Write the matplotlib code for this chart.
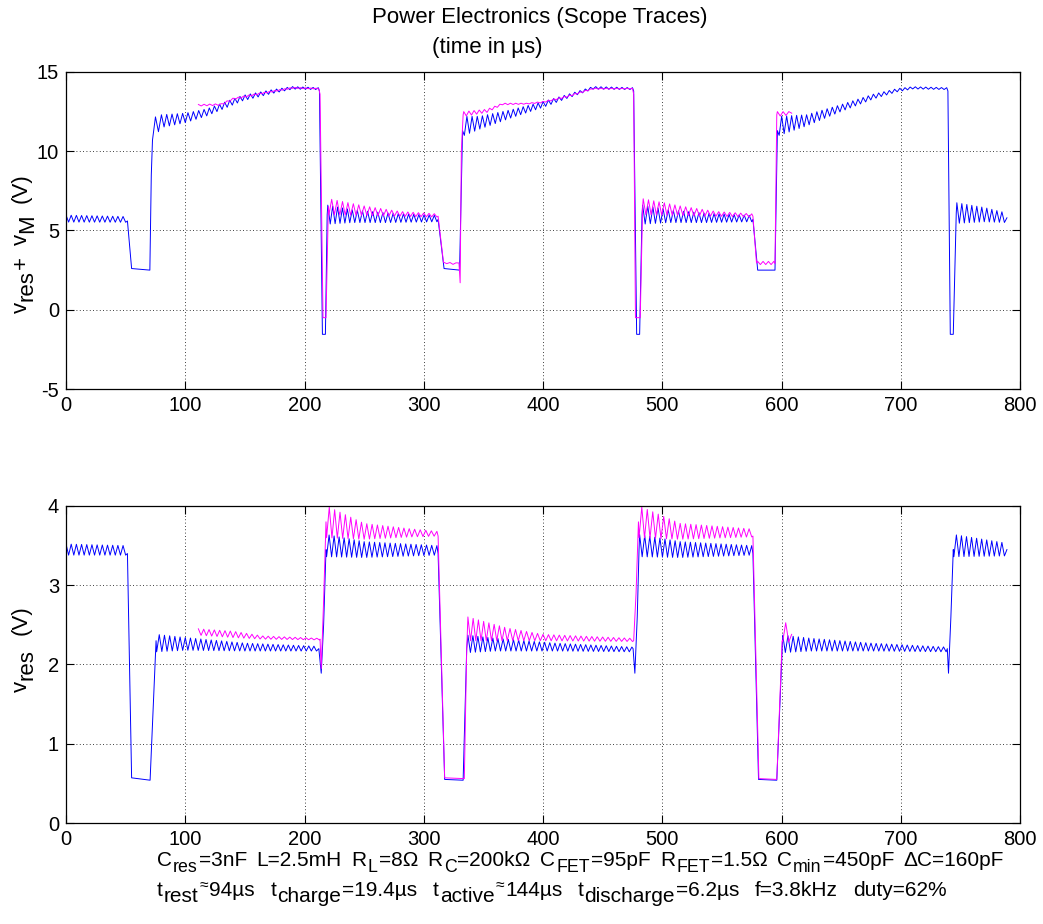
import numpy as np
import matplotlib
matplotlib.use('Agg')
import matplotlib.pyplot as plt

plt.rcParams['font.family'] = ['Liberation Sans', 'DejaVu Sans']
plt.rcParams['mathtext.fontset'] = 'custom'
plt.rcParams['mathtext.rm'] = 'Liberation Sans'
plt.rcParams['mathtext.default'] = 'regular'
plt.rcParams['axes.unicode_minus'] = False

# knots: (time us, centre level V, ringing amplitude V)
top_blue = [
    (0, 5.75, 0.22), (50, 5.7, 0.18), (51.5, 5.6, 0), (55, 2.6, 0), (70.3, 2.5, 0),
    (71.5, 8.5, 0), (72.5, 11.4, 0.7), (80, 11.9, 0.4), (100, 12.1, 0.3), (118, 12.45, 0.22),
    (148, 13.35, 0.17), (172, 13.75, 0.12), (190, 14.0, 0.08), (211.5, 13.95, 0.06),
    (212.5, 13.8, 0), (215, -1.55, 0), (217.5, -1.55, 0), (219, 6.0, 0), (219.5, 6.0, 0.6),
    (240, 5.9, 0.4), (270, 5.8, 0.3), (311, 5.75, 0.2), (312, 5.7, 0), (317, 2.6, 0),
    (330, 2.5, 0), (332.5, 11.3, 0), (334, 11.6, 0.6), (347, 11.8, 0.4), (375, 12.4, 0.25),
    (400, 12.95, 0.18), (420, 13.45, 0.12), (442, 14.0, 0.08), (475, 13.95, 0.06),
    (476, 13.8, 0), (478.5, -1.55, 0), (481, -1.55, 0), (483, 6.0, 0), (483.5, 6.0, 0.6),
    (505, 5.9, 0.4), (535, 5.8, 0.3), (575, 5.75, 0.2), (576, 5.7, 0), (580, 2.5, 0),
    (594.5, 2.5, 0), (596.5, 11.3, 0), (598, 11.6, 0.6), (621, 11.95, 0.35), (649, 12.7, 0.22),
    (677, 13.45, 0.15), (697, 13.85, 0.1), (710, 14.0, 0.07), (738.5, 13.95, 0.06),
    (739.5, 13.8, 0), (741.5, -1.55, 0), (744, -1.55, 0), (746.5, 6.1, 0), (747, 6.1, 0.65),
    (770, 6.0, 0.45), (789, 5.8, 0.3),
]
top_magenta = [
    (111, 12.9, 0.05), (130, 12.95, 0.05), (140, 13.3, 0.05), (160, 13.6, 0.04),
    (175, 13.8, 0.03), (190, 14.0, 0.03), (212, 13.95, 0.02), (213, 13.6, 0),
    (215.5, -0.5, 0), (218, -0.5, 0), (220, 6.5, 0), (220.5, 6.5, 0.5), (250, 6.25, 0.3),
    (280, 6.05, 0.15), (311, 5.95, 0.1), (312, 5.9, 0), (316.5, 3.0, 0), (322, 2.9, 0.08),
    (329.5, 2.95, 0), (330.5, 1.7, 0), (331.5, 10.0, 0), (333, 12.3, 0), (333.5, 12.35, 0.15),
    (353, 12.55, 0.1), (366, 12.98, 0.05), (386, 13.0, 0.03), (400, 13.1, 0.04),
    (420, 13.45, 0.04), (442, 13.95, 0.03), (475, 13.95, 0.02), (476, 13.6, 0),
    (477.5, -0.5, 0), (481.5, -0.5, 0), (483.5, 6.5, 0), (484, 6.5, 0.5), (515, 6.25, 0.3),
    (545, 6.05, 0.15), (575, 5.95, 0.1), (576, 5.9, 0), (579, 2.95, 0), (580, 2.95, 0.1),
    (593.5, 2.95, 0.1), (594.5, 2.9, 0), (596, 12.3, 0), (596.5, 12.35, 0.15),
    (608.5, 12.4, 0.1),
]
bot_blue = [
    (0, 3.45, 0.07), (50, 3.44, 0.06), (51.5, 3.4, 0), (55, 0.57, 0), (70.5, 0.54, 0),
    (73.5, 1.6, 0), (75.5, 2.3, 0), (76, 2.27, 0.11), (100, 2.26, 0.08), (150, 2.22, 0.05),
    (210, 2.2, 0.03), (212, 2.2, 0), (214, 1.89, 0), (216, 2.5, 0), (218, 3.45, 0),
    (218.5, 3.5, 0.14), (250, 3.45, 0.1), (311, 3.44, 0.06), (312, 3.4, 0), (317.5, 0.55, 0),
    (333, 0.54, 0), (336, 2.2, 0), (337, 2.26, 0.11), (360, 2.25, 0.08), (410, 2.22, 0.05),
    (474.5, 2.19, 0.03), (475.5, 2.2, 0), (477, 1.89, 0), (479, 2.6, 0), (480.5, 3.45, 0),
    (481, 3.5, 0.14), (515, 3.45, 0.1), (575, 3.44, 0.06), (576, 3.4, 0), (580.7, 0.55, 0),
    (596, 0.54, 0), (600.5, 2.2, 0), (601, 2.26, 0.11), (625, 2.25, 0.08), (675, 2.22, 0.05),
    (738, 2.19, 0.03), (739, 2.2, 0), (740, 1.89, 0), (742, 2.6, 0), (744, 3.45, 0),
    (744.5, 3.5, 0.14), (789, 3.45, 0.08),
]
bot_magenta = [
    (111, 2.41, 0.04), (140, 2.38, 0.04), (165, 2.34, 0.02), (212.5, 2.32, 0.01),
    (213, 2.32, 0), (214, 1.95, 0), (216, 2.8, 0), (218, 3.8, 0), (218.5, 3.8, 0.2),
    (250, 3.68, 0.1), (290, 3.66, 0.05), (311, 3.65, 0.03), (312, 3.62, 0), (317.5, 0.57, 0),
    (334, 0.56, 0), (336, 2.2, 0), (337, 2.45, 0.15), (370, 2.38, 0.08), (400, 2.34, 0.04),
    (475, 2.31, 0.02), (476, 2.3, 0), (478, 2.9, 0), (480, 3.8, 0), (480.5, 3.8, 0.2),
    (515, 3.68, 0.1), (575, 3.66, 0.05), (576, 3.62, 0), (581, 0.56, 0), (596, 0.55, 0),
    (600.5, 2.3, 0), (601, 2.42, 0.13), (608.5, 2.38, 0.1),
]
blue_period = 4.3
magenta_period = 4.5

x_ticks = [0, 100, 200, 300, 400, 500, 600, 700, 800]
top_ticks = [-5, 0, 5, 10, 15]
bot_ticks = [0, 1, 2, 3, 4]

# parameter text, 'n' normal, 's' subscript, 'a' small raised approx sign
params1 = [
    [('C', 'n'), ('res', 's'), ('=3nF', 'n')],
    [('L=2.5mH', 'n')],
    [('R', 'n'), ('L', 's'), ('=8Ω', 'n')],
    [('R', 'n'), ('C', 's'), ('=200kΩ', 'n')],
    [('C', 'n'), ('FET', 's'), ('=95pF', 'n')],
    [('R', 'n'), ('FET', 's'), ('=1.5Ω', 'n')],
    [('C', 'n'), ('min', 's'), ('=450pF', 'n')],
    [('ΔC=160pF', 'n')],
]
params2 = [
    [('t', 'n'), ('rest', 's'), ('≈', 'a'), ('94µs', 'n')],
    [('t', 'n'), ('charge', 's'), ('=19.4µs', 'n')],
    [('t', 'n'), ('active', 's'), ('≈', 'a'), ('144µs', 'n')],
    [('t', 'n'), ('discharge', 's'), ('=6.2µs', 'n')],
    [('f=3.8kHz', 'n')],
    [('duty=62%', 'n')],
]
ylab_top = [[('v', 'n'), ('res', 's'), ('+', 'n')], [('v', 'n'), ('M', 's')], [('(V)', 'n')]]
ylab_bot = [[('v', 'n'), ('res', 's')], [('(V)', 'n')]]

W, H = 1043, 924


def build(knots, period):
    # walk the knots, putting the ringing peaks every half period
    ts, vs = [], []
    sign = 1
    for (t0, c0, a0), (t1, c1, a1) in zip(knots[:-1], knots[1:]):
        if a0 == 0 and a1 == 0:
            ts.append(t0)
            vs.append(c0)
            continue
        n = max(1, int(round((t1 - t0) / (period / 2))))
        for j in range(n):
            f = j / n
            ts.append(t0 + f * (t1 - t0))
            vs.append(c0 + f * (c1 - c0) + sign * (a0 + f * (a1 - a0)))
            sign = -sign
    ts.append(knots[-1][0])
    vs.append(knots[-1][1])
    return np.array(ts), np.array(vs)


fig = plt.figure(figsize=(10.43, 9.24), dpi=100)
ax1 = fig.add_axes([0.0633, 0.579, 0.9147, 0.3431])
ax2 = fig.add_axes([0.0633, 0.1093, 0.9147, 0.3431])

for ax, blue, mag, ticks in [(ax1, top_blue, top_magenta, top_ticks),
                             (ax2, bot_blue, bot_magenta, bot_ticks)]:
    t, v = build(blue, blue_period)
    ax.plot(t, v, color='#0000ff', lw=0.7)
    t, v = build(mag, magenta_period)
    ax.plot(t, v, color='#ff00ff', lw=0.7)
    ax.set_xlim(0, 800)
    ax.set_ylim(ticks[0], ticks[-1])
    ax.set_xticks(x_ticks)
    ax.set_yticks(ticks)
    ax.grid(True, color='black', linestyle=(0, (1, 3)), linewidth=0.6)
    ax.tick_params(direction='in', top=True, right=True, labelsize=14.5, length=6, pad=5)
    for s in ax.spines.values():
        s.set_linewidth(0.9)

renderer = fig.canvas.get_renderer()


def rich(items, start, end, base, size, sub=0.85, vertical=False):
    # lay text pieces one after another, spreading the gaps to fill start..end (pixels)
    styles = {'n': (1.0, 0), 's': (sub, 6), 'a': (0.75, -5)}
    groups, total = [], 0
    for item in items:
        g = []
        for s, kind in item:
            scale, off = styles[kind]
            txt = fig.text(0, 0, s, fontsize=size * scale, rotation=90 if vertical else 0,
                           rotation_mode='anchor', ha='left', va='baseline')
            bb = txt.get_window_extent(renderer)
            adv = (bb.height if vertical else bb.width) + 1
            g.append((txt, off, adv))
            total += adv
        groups.append(g)
    gap = (abs(end - start) - total) / max(len(items) - 1, 1)
    pos = start
    for g in groups:
        for txt, off, adv in g:
            if vertical:
                txt.set_position(((base + off) / W, 1 - pos / H))
                pos -= adv
            else:
                txt.set_position((pos / W, 1 - (base + off) / H))
                pos += adv
        pos += -gap if vertical else gap


rich(params1, 157, 1005, 866, 15, sub=0.85)
rich(params2, 157, 948, 896, 15, sub=1.0)
rich(ylab_top, 313, 172, 27, 16, sub=1.0, vertical=True)
rich(ylab_bot, 692, 604, 27, 16, sub=1.0, vertical=True)

fig.text(540 / W, 1 - 18 / H, 'Power Electronics (Scope Traces)', ha='center', va='center', fontsize=16)
fig.text(487 / W, 1 - 47 / H, '(time in µs)', ha='center', va='center', fontsize=16)

fig.savefig('out.png', dpi=100)
